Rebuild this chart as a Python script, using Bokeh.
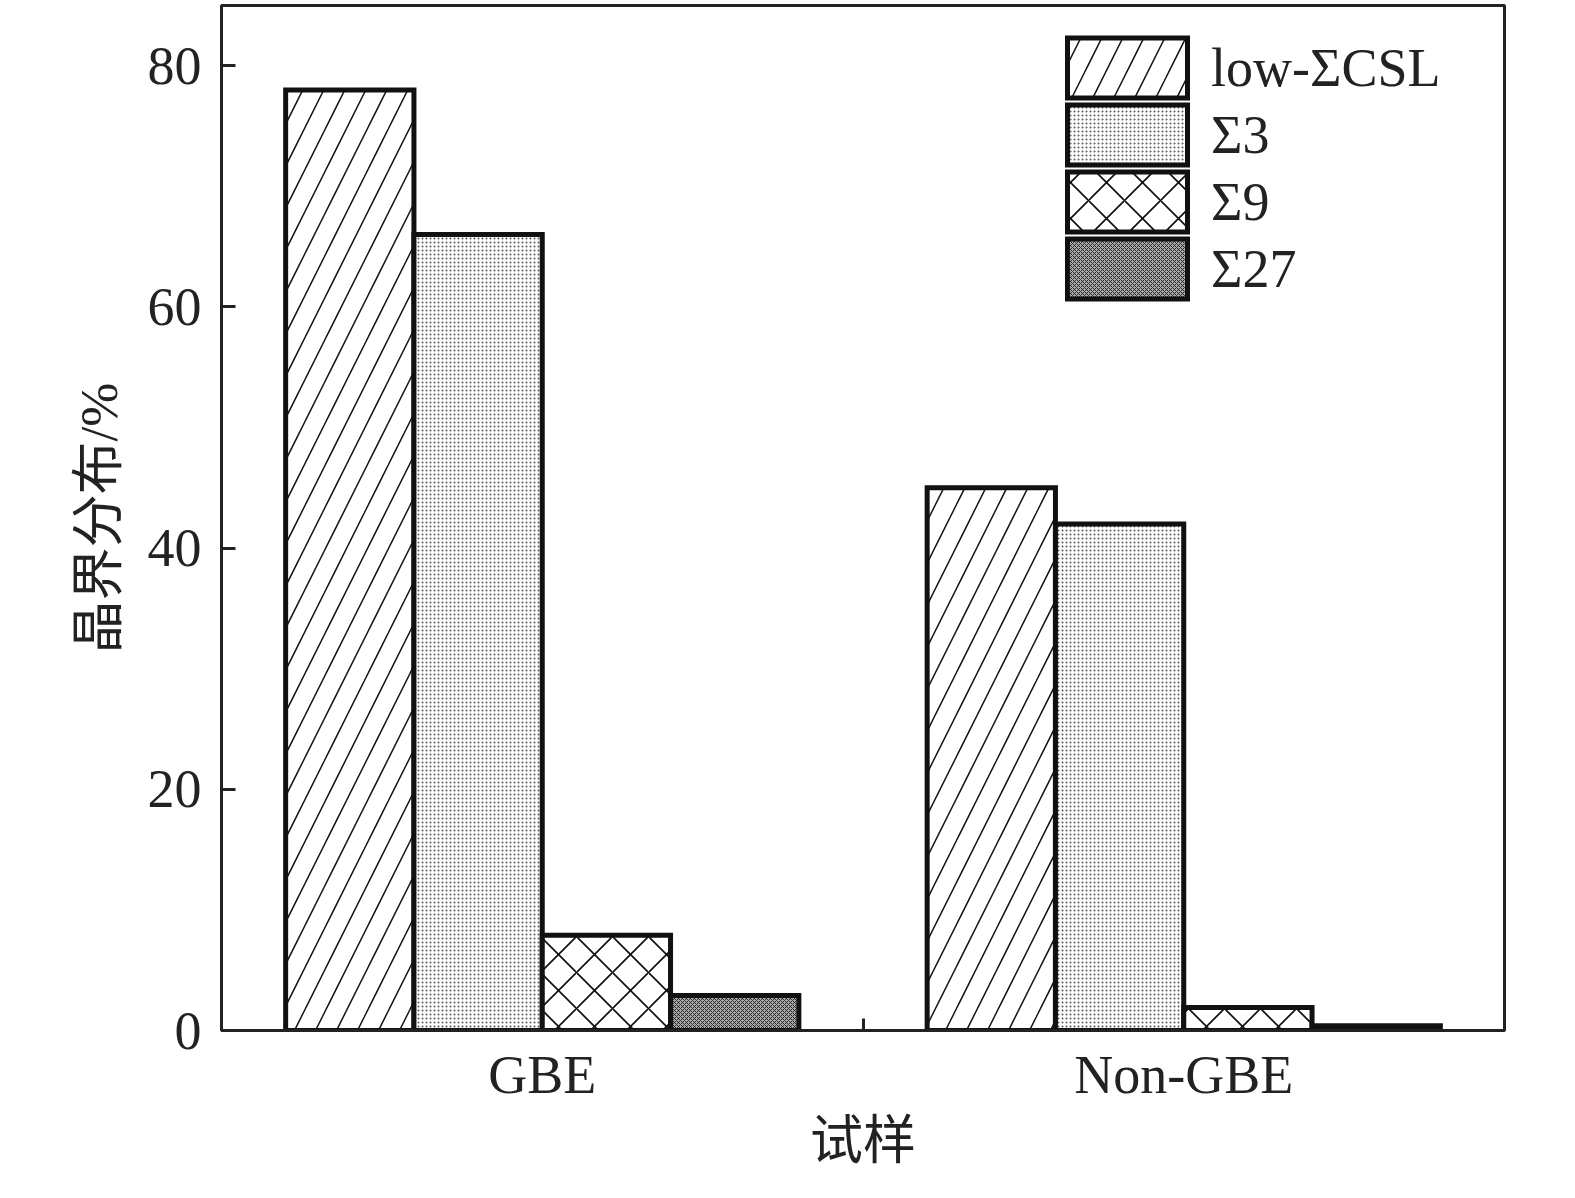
from bokeh.plotting import figure
from bokeh.models import ColumnDataSource, FixedTicker, Range1d, Legend, LegendItem
from bokeh.embed import file_html
from bokeh.resources import INLINE

# ---- data ----
samples = ["GBE", "Non-GBE"]
series = ["low-ΣCSL", "Σ3", "Σ9", "Σ27"]
low_csl = [78.0, 45.0]
sigma3 = [66.0, 42.0]
sigma9 = [7.9, 1.9]
sigma27 = [2.9, 0.4]
y_ticks = [0, 20, 40, 60, 80]
x_title = "试样"
y_title = "晶界分布/%"

values = [low_csl, sigma3, sigma9, sigma27]
offsets = [-0.3, -0.1, 0.1, 0.3]
bar_w = 0.2
styles = [
    dict(fill_color="white", hatch_pattern="/", hatch_scale=42, hatch_weight=1.5, hatch_color="#111111"),
    dict(fill_color="white", hatch_pattern=".", hatch_scale=4, hatch_weight=1, hatch_color="#555555"),
    dict(fill_color="white", hatch_pattern="x", hatch_scale=36, hatch_weight=1.7, hatch_color="#111111"),
    dict(fill_color="#a8a8a8", hatch_pattern="x", hatch_scale=4, hatch_weight=0.8, hatch_color="#111111"),
]

SERIF = "Liberation Serif"
MIXED = "'Liberation Serif', 'Noto Sans CJK SC'"

W, H = 1559, 1182
MB_L, MB_R, MB_T, MB_B = 221, 55, 5, 152
frame_h = H - MB_T - MB_B

p = figure(width=W, height=H, output_backend="svg", toolbar_location=None,
           x_range=Range1d(0, len(samples)), y_range=Range1d(0, 85.0),
           min_border_left=MB_L, min_border_right=MB_R, min_border_top=MB_T, min_border_bottom=MB_B)
p.grid.visible = False
p.outline_line_color = "#222222"
p.outline_line_width = 3
p.background_fill_color = "white"
p.border_fill_color = "white"

centers = [i + 0.5 for i in range(len(samples))]
renderers = []
for name, vals, off, st in zip(series, values, offsets, styles):
    src = ColumnDataSource(dict(x=[c + off for c in centers], top=vals))
    r = p.vbar(x="x", top="top", bottom=0, width=bar_w, source=src,
               line_color="#111111", line_width=5, line_join="miter", **st)
    renderers.append(r)

# one legend per entry so the boxes can sit closer together than their height
leg_x, leg_top, leg_step, glyph_h = 831, 25, 67, 75
for k, (name, r) in enumerate(zip(series, renderers)):
    top = leg_top + k * leg_step
    lg = Legend(items=[LegendItem(label=name, renderers=[r])],
                location=(leg_x, frame_h - top - glyph_h), glyph_width=150, glyph_height=glyph_h,
                spacing=0, padding=0, margin=0, border_line_color=None,
                background_fill_alpha=0, label_text_font=SERIF,
                label_text_font_size="54px", label_standoff=9, label_text_color="#222222",
                label_text_baseline="middle")
    p.add_layout(lg)

# x axis
xa = p.xaxis[0]
xa.ticker = FixedTicker(ticks=centers, minor_ticks=[float(i) for i in range(1, len(samples))])
xa.major_label_overrides = {c: s for c, s in zip(centers, samples)}
xa.major_tick_line_color = None
xa.minor_tick_in = 12
xa.minor_tick_out = 0
xa.minor_tick_line_width = 3
xa.minor_tick_line_color = "#222222"
xa.axis_line_width = 3
xa.axis_line_color = "#222222"
xa.major_label_text_font = SERIF
xa.major_label_text_font_size = "54px"
xa.major_label_text_color = "#222222"
xa.major_label_standoff = 8
xa.axis_label = x_title
xa.axis_label_text_font = MIXED
xa.axis_label_text_font_size = "53px"
xa.axis_label_text_font_style = "normal"
xa.axis_label_text_color = "#222222"
xa.axis_label_standoff = 4

# y axis
ya = p.yaxis[0]
ya.ticker = FixedTicker(ticks=y_ticks, minor_ticks=[])
ya.major_tick_in = 14
ya.major_tick_out = 0
ya.major_tick_line_width = 3
ya.major_tick_line_color = "#222222"
ya.axis_line_width = 3
ya.axis_line_color = "#222222"
ya.major_label_text_font = SERIF
ya.major_label_text_font_size = "54px"
ya.major_label_text_color = "#222222"
ya.major_label_standoff = 20
ya.axis_label = y_title
ya.axis_label_text_font = MIXED
ya.axis_label_text_font_size = "53px"
ya.axis_label_text_font_style = "normal"
ya.axis_label_text_color = "#222222"
ya.axis_label_standoff = 17

open("out.html", "w").write(file_html(p, INLINE))
